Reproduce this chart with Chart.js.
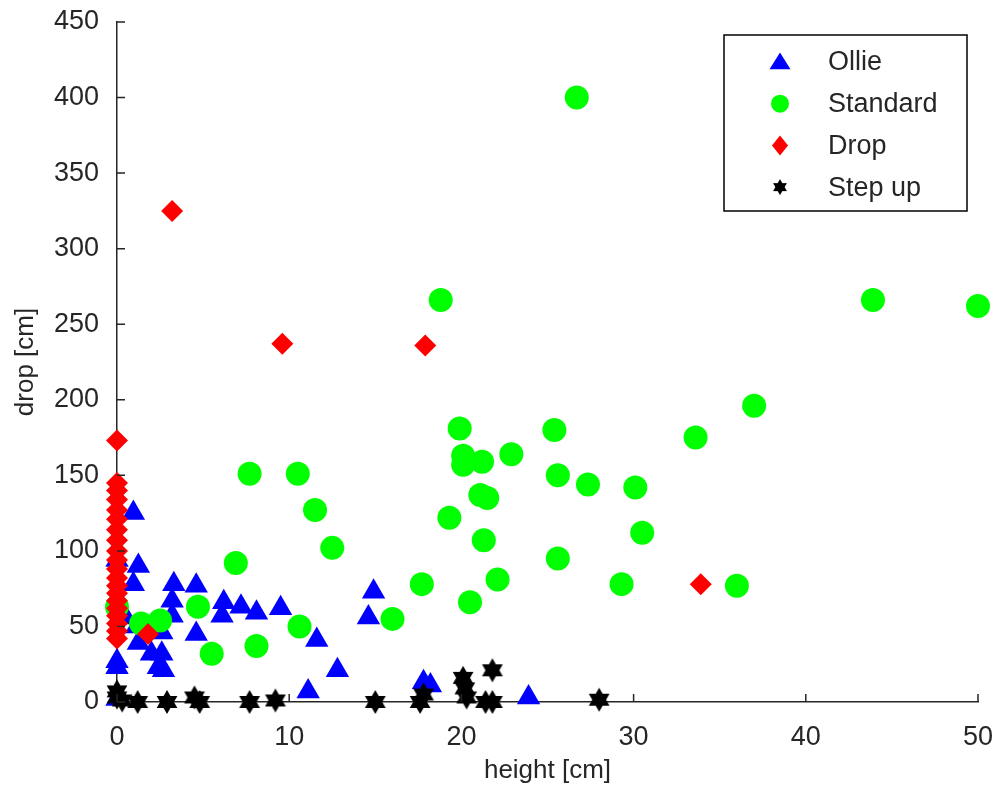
<!DOCTYPE html>
<html>
<head>
<meta charset="utf-8">
<script src="https://cdn.jsdelivr.net/npm/chart.js@4"></script>
<style>
  html, body { margin: 0; padding: 0; background: #fff; }
  #wrap { width: 1000px; height: 786px; }
</style>
</head>
<body>
<div id="wrap"><canvas id="myChart" width="1000" height="786"></canvas></div>
<script>
// data
const xTicks = [0, 10, 20, 30, 40, 50];
const yTicks = [0, 50, 100, 150, 200, 250, 300, 350, 400, 450];

const ollieX = [0, 0, 0, 0, 0.5, 0.95, 1.24, 0.95, 1.14, 1.24, 2, 2.6, 2.4, 2.7, 2.6, 3.3, 4.6, 3.2, 3.2, 4.6, 6.2, 7.2, 8.1, 6.1, 9.5, 11.6, 12.8, 11.1, 14.9, 14.6, 17.8, 18.2, 23.9];
const ollieY = [94, 27, 23, 2, 56, 125, 90, 78, 50, 39, 32, 32, 23, 21, 46, 78, 77, 67, 57, 45, 66, 63, 59, 57, 62, 41, 21, 7, 73, 56, 13, 11, 3];

const standardX = [26.7, 43.9, 50, 18.8, 37, 33.6, 19.9, 25.4, 20.1, 20.1, 21.2, 22.9, 25.6, 27.35, 30.1, 21.1, 21.5, 19.3, 21.3, 30.5, 25.6, 17.7, 22.1, 29.3, 36, 20.5, 16, 10.6, 11.5, 12.5, 7.7, 10.5, 6.9, 4.7, 8.1, 5.5, 2.5, 1.4, 0];
const standardY = [400, 266, 262, 266, 196, 175, 181, 180, 163, 157, 159, 164, 150, 144, 142, 137, 135, 122, 107, 112, 95, 78, 81, 78, 77, 66, 55, 50, 127, 102, 151, 151, 92, 63, 37, 32, 54, 52, 63];

const dropX = [0, 0, 0, 0, 0, 0, 0, 0, 0, 0, 0, 0, 0, 0, 0, 0, 0, 0, 0, 0, 1.8, 3.2, 9.6, 17.9, 33.9];
const dropY = [173, 145, 140, 134, 127, 121, 114, 107, 100, 94, 88, 82, 77, 72, 67, 62, 57, 52, 47, 42, 45, 325, 237, 236, 78];

const stepX = [0, 0, 0.3, 1.2, 2.9, 4.5, 4.8, 7.7, 9.2, 15, 17.6, 17.8, 20.1, 20.2, 20.3, 21.8, 21.4, 21.8, 28];
const stepY = [7, 3, 1, 0, 0, 3, 0, 0, 1, 0, 0, 5, 16, 9, 3, 21, 0, 0, 1.5];

const FONT = "'Liberation Sans', Arial, sans-serif";
const TXT = '#262626';

function pts(xs, ys) {
  return xs.map((x, i) => ({ x: x, y: ys[i] }));
}

// hexagram marker, like matlab 'h'
function hexagram(R) {
  const c = document.createElement('canvas');
  const s = Math.ceil(R * 2 + 2);
  c.width = s; c.height = s;
  const g = c.getContext('2d');
  const r = R / Math.sqrt(3);
  g.beginPath();
  for (let i = 0; i < 12; i++) {
    const a = -Math.PI / 2 + i * Math.PI / 6;
    const rr = i % 2 === 0 ? R : r;
    const px = s / 2 + Math.cos(a) * rr, py = s / 2 + Math.sin(a) * rr;
    if (i === 0) g.moveTo(px, py); else g.lineTo(px, py);
  }
  g.closePath();
  g.fillStyle = '#000';
  g.fill();
  return c;
}
const starBig = hexagram(12);
const starSmall = hexagram(8);

// matlab style ticks pointing into the plot
const inTicks = {
  id: 'inTicks',
  afterDraw(chart) {
    const { ctx, chartArea, scales } = chart;
    ctx.save();
    ctx.strokeStyle = TXT;
    ctx.lineWidth = 1.5;
    ctx.beginPath();
    yTicks.forEach(v => {
      const y = scales.y.getPixelForValue(v);
      ctx.moveTo(chartArea.left, y);
      ctx.lineTo(chartArea.left + 8, y);
    });
    xTicks.forEach(v => {
      const x = scales.x.getPixelForValue(v);
      ctx.moveTo(x, chartArea.bottom);
      ctx.lineTo(x, chartArea.bottom - 8);
    });
    ctx.stroke();
    ctx.restore();
  }
};

// legend box inside the axes, top right
const boxLegend = {
  id: 'boxLegend',
  afterDraw(chart) {
    const ctx = chart.ctx;
    const bx = 724, by = 35, bw = 243, bh = 176;
    ctx.save();
    ctx.fillStyle = '#fff';
    ctx.fillRect(bx, by, bw, bh);
    ctx.strokeStyle = '#000';
    ctx.lineWidth = 1.5;
    ctx.strokeRect(bx, by, bw, bh);
    ctx.font = '27px ' + FONT;
    ctx.textBaseline = 'middle';
    chart.data.datasets.forEach((ds, i) => {
      const cy = 62 + i * 41.7;
      const cx = 780;
      const style = ds.legendStyle;
      ctx.fillStyle = ds.backgroundColor;
      ctx.beginPath();
      if (style === 'triangle') {
        const r = 12;
        ctx.moveTo(cx, cy - r * 0.8);
        ctx.lineTo(cx + r * 0.87, cy + r * 0.6);
        ctx.lineTo(cx - r * 0.87, cy + r * 0.6);
        ctx.closePath();
        ctx.fill();
      } else if (style === 'circle') {
        ctx.arc(cx, cy, 9, 0, Math.PI * 2);
        ctx.fill();
      } else if (style === 'diamond') {
        ctx.moveTo(cx, cy - 10);
        ctx.lineTo(cx + 8, cy);
        ctx.lineTo(cx, cy + 10);
        ctx.lineTo(cx - 8, cy);
        ctx.closePath();
        ctx.fill();
      } else {
        ctx.drawImage(starSmall, cx - starSmall.width / 2, cy - starSmall.height / 2);
      }
      ctx.fillStyle = TXT;
      ctx.fillText(ds.label, 828, cy + 1);
    });
    ctx.restore();
  }
};

const ctx = document.getElementById('myChart').getContext('2d');
const myChart = new Chart(ctx, {
  type: 'scatter',
  data: {
    datasets: [
      {
        label: 'Ollie',
        data: pts(ollieX, ollieY),
        pointStyle: 'triangle',
        pointRadius: 13.5,
        backgroundColor: '#0000FF',
        borderWidth: 0,
        legendStyle: 'triangle',
        order: 4,
        clip: false,
      },
      {
        label: 'Standard',
        data: pts(standardX, standardY),
        pointStyle: 'circle',
        pointRadius: 12,
        backgroundColor: '#00FF00',
        borderWidth: 0,
        legendStyle: 'circle',
        order: 3,
        clip: false,
      },
      {
        label: 'Drop',
        data: pts(dropX, dropY),
        pointStyle: 'rectRot',
        pointRadius: 11,
        backgroundColor: '#FF0000',
        borderWidth: 0,
        legendStyle: 'diamond',
        order: 2,
        clip: false,
      },
      {
        label: 'Step up',
        data: pts(stepX, stepY),
        pointStyle: starBig,
        pointRadius: 12,
        backgroundColor: '#000000',
        borderWidth: 0,
        legendStyle: 'star',
        order: 1,
        clip: false,
      },
    ],
  },
  options: {
    responsive: false,
    animation: false,
    layout: { padding: { top: 22, right: 22, left: 0, bottom: 0 } },
    plugins: {
      legend: { display: false },
      tooltip: { enabled: false },
    },
    scales: {
      x: {
        type: 'linear',
        min: 0,
        max: 50,
        afterFit: s => { s.height = 84; s.paddingLeft = 0; s.paddingRight = 0; },
        afterBuildTicks: s => { s.ticks = xTicks.map(v => ({ value: v })); },
        grid: { display: false },
        border: { display: true, color: TXT, width: 1.5 },
        ticks: { color: TXT, font: { family: FONT, size: 27 }, padding: 11, maxRotation: 0 },
        title: { display: true, text: 'height [cm]', color: TXT, font: { family: FONT, size: 26 }, padding: { top: 0, bottom: 0 } },
      },
      y: {
        type: 'linear',
        min: 0,
        max: 450,
        afterFit: s => { s.width = 117; s.paddingTop = 0; s.paddingBottom = 0; },
        afterBuildTicks: s => { s.ticks = yTicks.map(v => ({ value: v })); },
        grid: { display: false },
        border: { display: true, color: TXT, width: 1.5 },
        ticks: { color: TXT, font: { family: FONT, size: 27 }, padding: 10 },
        title: { display: true, text: 'drop [cm]', color: TXT, font: { family: FONT, size: 26 }, padding: { top: 10, bottom: 0 } },
      },
    },
  },
  plugins: [inTicks, boxLegend],
});
</script>
</body>
</html>
